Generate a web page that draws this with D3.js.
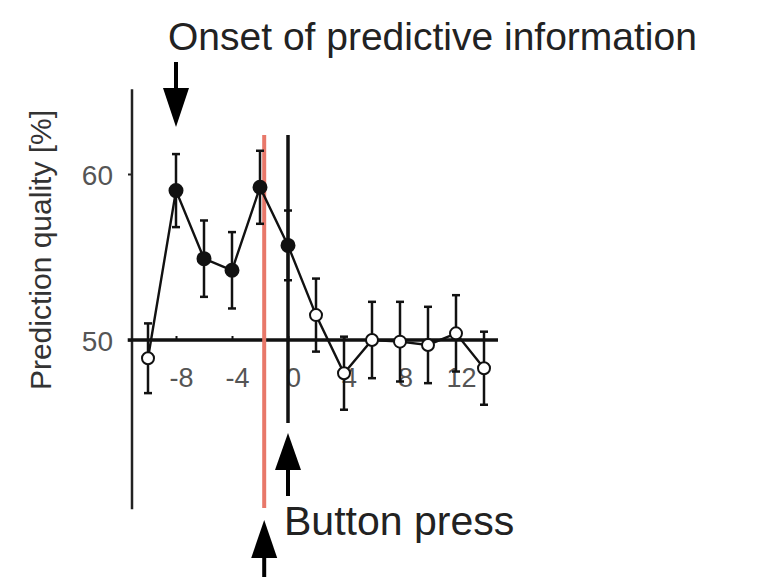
<!DOCTYPE html>
<html>
<head>
<meta charset="utf-8">
<script src="https://cdn.jsdelivr.net/npm/d3@7"></script>
<style>
  body { margin: 0; background: #fff; }
  text { font-family: "Liberation Sans", Arial, Helvetica, sans-serif; }
</style>
</head>
<body>
<div id="chart"></div>
<script>
    // time relative to button press (frames) and prediction quality in %
    var times = [-10, -8, -6, -4, -2, 0, 2, 4, 6, 8, 10, 12, 14];
    var quality = [48.9, 59.0, 54.9, 54.2, 59.2, 55.7, 51.5, 48.0, 50.0, 49.9, 49.7, 50.4, 48.3];
    var errors = [2.1, 2.2, 2.3, 2.3, 2.2, 2.1, 2.2, 2.2, 2.3, 2.4, 2.3, 2.3, 2.2];
    var significant = [false, true, true, true, true, true, false, false, false, false, false, false, false];
    var xTicks = [-8, -4, 0, 4, 8, 12];
    var yTicks = [50, 60];
    var onsetTime = -8;
    var redLineTime = -1.7;
    var buttonTime = 0;

    var svg = d3.select("#chart")
                .append("svg")
                .attr("width", 781)
                .attr("height", 577);

    var x = d3.scaleLinear().domain([-10, 14]).range([148, 484]);
    var y = d3.scaleLinear().domain([40, 65]).range([506, 91]);

    var points = times.map(function(t, i) {
        return {t: t, q: quality[i], e: errors[i], sig: significant[i]};
    });

    // y axis line + ticks
    svg.append("line")
        .attr("x1", 132).attr("x2", 132)
        .attr("y1", y(65.1)).attr("y2", y(39.8))
        .attr("stroke", "#222").attr("stroke-width", 2.5);

    var yAxis = svg.append("g")
        .attr("transform", "translate(132,0)")
        .call(d3.axisLeft(y).tickValues(yTicks).tickSize(4).tickFormat(function(d) { return String(d); }));
    yAxis.select(".domain").remove();
    yAxis.selectAll("line").attr("stroke", "#222").attr("stroke-width", 2);
    yAxis.selectAll("text")
        .attr("x", -19)
        .attr("dy", "0.36em")
        .attr("fill", "#555")
        .style("font-size", "28px");

    // x axis along 50 %
    svg.append("line")
        .attr("x1", x(-11.45)).attr("x2", x(15))
        .attr("y1", y(50)).attr("y2", y(50))
        .attr("stroke", "#111").attr("stroke-width", 3.5);

    var xAxis = svg.append("g")
        .attr("transform", "translate(0," + y(50) + ")")
        .call(d3.axisBottom(x).tickValues(xTicks).tickSize(-4).tickFormat(function(d) { return String(d); }));
    xAxis.select(".domain").remove();
    xAxis.selectAll("line").attr("stroke", "#111").attr("stroke-width", 2);
    xAxis.selectAll("text")
        .attr("y", 47)
        .attr("dy", 0)
        .attr("dx", 5)
        .attr("fill", "#555")
        .style("font-size", "27px");

    // red marker line
    svg.append("line")
        .attr("x1", x(redLineTime)).attr("x2", x(redLineTime))
        .attr("y1", 135).attr("y2", 508)
        .attr("stroke", "#e8786a").attr("stroke-width", 4);

    // black line at button press
    svg.append("line")
        .attr("x1", x(buttonTime)).attr("x2", x(buttonTime))
        .attr("y1", 135).attr("y2", 423)
        .attr("stroke", "#111").attr("stroke-width", 3.5);

    // error bars
    var bars = svg.selectAll("g.err")
        .data(points)
        .enter()
        .append("g")
        .attr("class", "err")
        .attr("stroke", "#111")
        .attr("stroke-width", 2.5);

    bars.append("line")
        .attr("x1", function(d) { return x(d.t); })
        .attr("x2", function(d) { return x(d.t); })
        .attr("y1", function(d) { return y(d.q + d.e); })
        .attr("y2", function(d) { return y(d.q - d.e); });

    [1, -1].forEach(function(s) {
        bars.append("line")
            .attr("x1", function(d) { return x(d.t) - 4; })
            .attr("x2", function(d) { return x(d.t) + 4; })
            .attr("y1", function(d) { return y(d.q + s * d.e); })
            .attr("y2", function(d) { return y(d.q + s * d.e); });
    });

    // connecting line
    var line = d3.line()
        .x(function(d) { return x(d.t); })
        .y(function(d) { return y(d.q); });

    svg.append("path")
        .datum(points)
        .attr("d", line)
        .attr("fill", "none")
        .attr("stroke", "#111")
        .attr("stroke-width", 2.4);

    svg.selectAll("circle.pt")
        .data(points)
        .enter()
        .append("circle")
        .attr("class", "pt")
        .attr("cx", function(d) { return x(d.t); })
        .attr("cy", function(d) { return y(d.q); })
        .attr("r", function(d) { return d.sig ? 6.5 : 6; })
        .attr("fill", function(d) { return d.sig ? "#111" : "#fff"; })
        .attr("stroke", "#111")
        .attr("stroke-width", 2);

    // arrows
    function arrow(cx, tipY, baseY, tailY) {
        svg.append("line")
            .attr("x1", cx).attr("x2", cx)
            .attr("y1", tailY).attr("y2", baseY)
            .attr("stroke", "#000").attr("stroke-width", 4);
        svg.append("path")
            .attr("d", "M" + (cx - 13) + "," + baseY + " L" + (cx + 13) + "," + baseY + " L" + cx + "," + tipY + " Z")
            .attr("fill", "#000");
    }

    arrow(x(onsetTime), 127, 88, 62);
    arrow(x(buttonTime), 433, 470, 496);
    arrow(x(redLineTime), 520, 558, 577);

    // labels
    svg.append("text")
        .attr("x", 168)
        .attr("y", 50)
        .attr("fill", "#222")
        .style("font-size", "39px")
        .text("Onset of predictive information");

    svg.append("text")
        .attr("x", 284)
        .attr("y", 535)
        .attr("fill", "#222")
        .style("font-size", "41px")
        .text("Button press");

    svg.append("text")
        .attr("transform", "translate(51," + 250 + ") rotate(-90)")
        .attr("text-anchor", "middle")
        .attr("fill", "#333")
        .style("font-size", "30px")
        .text("Prediction quality [%]");
</script>
</body>
</html>
